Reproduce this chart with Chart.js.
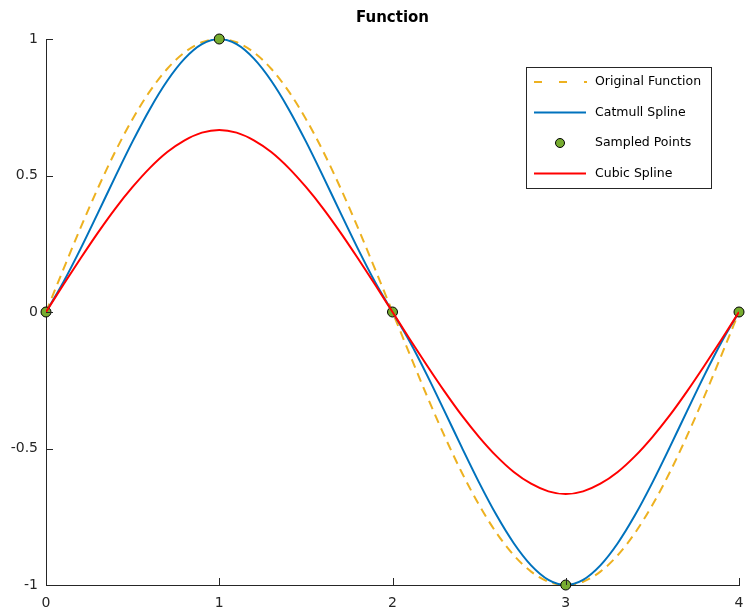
<!DOCTYPE html>
<html>
<head>
<meta charset="utf-8">
<script src="https://cdn.jsdelivr.net/npm/chart.js@4/dist/chart.umd.min.js"></script>
<style>
  html, body { margin: 0; padding: 0; background: #fff; }
  #chart { display: block; }
</style>
</head>
<body>
<canvas id="chart" width="745" height="616"></canvas>
<script>
// sample positions along x
const xs = [0, 0.1, 0.2, 0.3, 0.4, 0.5, 0.6, 0.7, 0.8, 0.9,
            1, 1.1, 1.2, 1.3, 1.4, 1.5, 1.6, 1.7, 1.8, 1.9,
            2, 2.1, 2.2, 2.3, 2.4, 2.5, 2.6, 2.7, 2.8, 2.9,
            3, 3.1, 3.2, 3.3, 3.4, 3.5, 3.6, 3.7, 3.8, 3.9, 4];

const originalY = [0, 0.156, 0.309, 0.454, 0.588, 0.707, 0.809, 0.891, 0.951, 0.988,
                   1, 0.988, 0.951, 0.891, 0.809, 0.707, 0.588, 0.454, 0.309, 0.156,
                   0, -0.156, -0.309, -0.454, -0.588, -0.707, -0.809, -0.891, -0.951, -0.988,
                   -1, -0.988, -0.951, -0.891, -0.809, -0.707, -0.588, -0.454, -0.309, -0.156, 0];

const catmullY = [0, 0.109, 0.232, 0.363, 0.496, 0.625, 0.744, 0.847, 0.928, 0.981,
                  1, 0.981, 0.928, 0.847, 0.744, 0.625, 0.496, 0.363, 0.232, 0.109,
                  0, -0.109, -0.232, -0.363, -0.496, -0.625, -0.744, -0.847, -0.928, -0.981,
                  -1, -0.981, -0.928, -0.847, -0.744, -0.625, -0.496, -0.363, -0.232, -0.109, 0];

const cubicY = [0, 0.100, 0.197, 0.291, 0.379, 0.458, 0.528, 0.586, 0.629, 0.657,
                0.667, 0.657, 0.629, 0.586, 0.528, 0.458, 0.379, 0.291, 0.197, 0.100,
                0, -0.100, -0.197, -0.291, -0.379, -0.458, -0.528, -0.586, -0.629, -0.657,
                -0.667, -0.657, -0.629, -0.586, -0.528, -0.458, -0.379, -0.291, -0.197, -0.100, 0];

const sampleX = [0, 1, 2, 3, 4];
const sampleY = [0, 1, 0, -1, 0];

const xTicks = [0, 1, 2, 3, 4];
const yTicks = [-1, -0.5, 0, 0.5, 1];

const FONT = "'DejaVu Sans', sans-serif";
const AXIS = '#262626';

function pts(x, y) {
  return x.map((v, i) => ({ x: v, y: y[i] }));
}

const legendItems = [
  { label: 'Original Function', kind: 'dash', color: '#EDB120' },
  { label: 'Catmull Spline', kind: 'line', color: '#0072BD' },
  { label: 'Sampled Points', kind: 'point', color: '#77AC30' },
  { label: 'Cubic Spline', kind: 'line', color: '#FF0000' }
];

// title, inward ticks and the boxed legend, MATLAB style
const decorations = {
  id: 'decorations',
  afterDraw(chart) {
    const ctx = chart.ctx;
    const a = chart.chartArea;
    const xs_ = chart.scales.x, ys_ = chart.scales.y;
    ctx.save();

    // ticks pointing into the axes
    ctx.strokeStyle = AXIS;
    ctx.lineWidth = 1;
    ctx.beginPath();
    xTicks.forEach(v => {
      const px = Math.round(xs_.getPixelForValue(v)) + 0.5;
      ctx.moveTo(px, a.bottom);
      ctx.lineTo(px, a.bottom - 7);
    });
    yTicks.forEach(v => {
      const py = Math.round(ys_.getPixelForValue(v)) + 0.5;
      ctx.moveTo(a.left, py);
      ctx.lineTo(a.left + 7, py);
    });
    ctx.stroke();

    // title
    ctx.fillStyle = '#000';
    ctx.font = "bold 15px " + FONT;
    ctx.textAlign = 'center';
    ctx.textBaseline = 'middle';
    ctx.fillText('Function', (a.left + a.right) / 2, 18);

    // legend box
    const bx = a.right - 213, by = a.top + 28, bw = 185, bh = 121;
    ctx.fillStyle = '#fff';
    ctx.fillRect(bx, by, bw, bh);
    ctx.strokeStyle = AXIS;
    ctx.strokeRect(bx + 0.5, by + 0.5, bw, bh);
    ctx.font = "12.5px " + FONT;
    ctx.textAlign = 'left';
    legendItems.forEach((it, i) => {
      const cy = by + 15 + i * 30.5;
      ctx.lineWidth = 2;
      ctx.strokeStyle = it.color;
      if (it.kind === 'dash') {
        ctx.setLineDash([8, 17]);
        ctx.beginPath(); ctx.moveTo(bx + 8, cy); ctx.lineTo(bx + 61, cy); ctx.stroke();
        ctx.setLineDash([]);
      } else if (it.kind === 'line') {
        ctx.beginPath(); ctx.moveTo(bx + 8, cy); ctx.lineTo(bx + 60, cy); ctx.stroke();
      } else {
        ctx.lineWidth = 1;
        ctx.fillStyle = it.color;
        ctx.strokeStyle = '#000';
        ctx.beginPath(); ctx.arc(bx + 34, cy, 4.5, 0, Math.PI * 2); ctx.fill(); ctx.stroke();
      }
      ctx.fillStyle = '#000';
      ctx.fillText(it.label, bx + 69, cy);
    });
    ctx.restore();
  }
};

new Chart(document.getElementById('chart'), {
  type: 'scatter',
  data: {
    datasets: [
      {
        label: 'Cubic Spline',
        data: pts(xs, cubicY),
        showLine: true,
        borderColor: '#FF0000',
        borderWidth: 2,
        pointRadius: 0,
        cubicInterpolationMode: 'monotone',
        order: 0
      },
      {
        label: 'Sampled Points',
        data: pts(sampleX, sampleY),
        showLine: false,
        pointRadius: 5,
        backgroundColor: '#77AC30',
        borderColor: '#000',
        borderWidth: 1,
        clip: false,
        order: 1
      },
      {
        label: 'Catmull Spline',
        data: pts(xs, catmullY),
        showLine: true,
        borderColor: '#0072BD',
        borderWidth: 2,
        pointRadius: 0,
        cubicInterpolationMode: 'monotone',
        order: 2
      },
      {
        label: 'Original Function',
        data: pts(xs, originalY),
        showLine: true,
        borderColor: '#EDB120',
        borderWidth: 2,
        borderDash: [9, 6],
        pointRadius: 0,
        cubicInterpolationMode: 'monotone',
        order: 3
      }
    ]
  },
  options: {
    responsive: false,
    animation: false,
    devicePixelRatio: 1,
    layout: { padding: { top: 39, right: 6, left: 0, bottom: 0 } },
    plugins: {
      legend: { display: false },
      tooltip: { enabled: false },
      title: { display: false }
    },
    scales: {
      x: {
        type: 'linear',
        min: 0,
        max: 4,
        afterFit: s => { s.height = 31; s.paddingLeft = 0; s.paddingRight = 0; },
        afterBuildTicks: s => { s.ticks = xTicks.map(v => ({ value: v })); },
        ticks: { padding: 10, color: '#262626', font: { family: FONT, size: 14 }, maxRotation: 0,
                 callback: v => String(v) },
        grid: { display: false, drawTicks: false },
        border: { display: true, color: AXIS, width: 1 }
      },
      y: {
        min: -1,
        max: 1,
        afterFit: s => { s.width = 46; s.paddingTop = 0; s.paddingBottom = 0; },
        afterBuildTicks: s => { s.ticks = yTicks.map(v => ({ value: v })); },
        ticks: { padding: 8, color: '#262626', font: { family: FONT, size: 14 },
                 callback: v => String(v) },
        grid: { display: false, drawTicks: false },
        border: { display: true, color: AXIS, width: 1 }
      }
    }
  },
  plugins: [decorations]
});
</script>
</body>
</html>
